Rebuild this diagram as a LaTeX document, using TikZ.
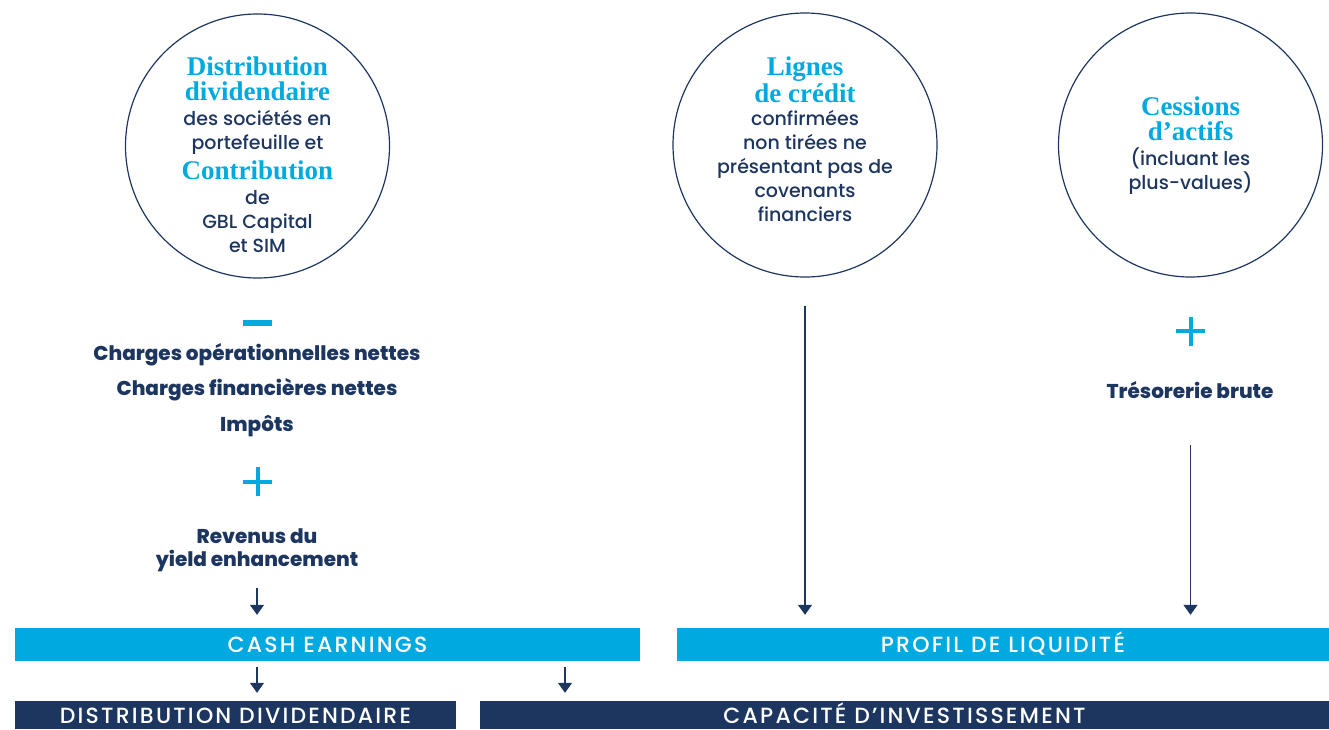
\documentclass[tikz,border=0pt]{standalone}
\usepackage{fontspec}
\newfontfamily\gbl{Poppins}[UprightFont={* Medium},BoldFont={* ExtraBold}]
\newfontfamily\serif{Liberation Serif}
\usepackage{tikz}
\usetikzlibrary{arrows.meta,positioning}

\definecolor{gblcyan}{HTML}{00A9E0}
\definecolor{gblnavy}{HTML}{1D3660}

% titre en serif gras
\newcommand{\hd}[1]{{\serif\bfseries\color{gblcyan}\fontsize{27}{24}\selectfont #1}}

\tikzset{
	bubble/.style={circle,draw=gblnavy,line width=1.2pt,minimum size=264pt,inner sep=0pt,
		align=center,text=gblnavy,font=\gbl\fontsize{19}{24}\selectfont},
	txt/.style={align=center,text=gblnavy,font=\gbl\fontsize{19}{24}\selectfont},
	lbl/.style={align=center,text=gblnavy,inner sep=0pt,font=\gbl\bfseries\fontsize{20}{23}\selectfont},
	bar/.style={fill=#1,text=white,inner sep=0pt,text depth=0pt,
		font=\gbl\fontsize{22}{24}\selectfont\addfontfeatures{LetterSpace=10}},
	flow/.style={draw=gblnavy,line width=1.3pt,-{Triangle[width=14pt,length=10pt]}},
	sign/.style={draw=gblcyan,line width=4pt}
}

\begin{document}
\begin{tikzpicture}[x=1pt,y=-1pt]
	\useasboundingbox (0,0) rectangle (1329,729);
	
	% les trois cercles
	\node[bubble] (div) at (257.5,146) {};
	\node[txt] (divtxt) at (257.5,155)
		{\hd{Distribution}\\[1pt]\hd{dividendaire}\\[1pt]
		des sociétés en\\portefeuille et\\[6pt]\hd{Contribution}\\[1pt]de\\GBL Capital\\et SIM};
	\node[bubble] (lig) at (805,145) {};
	\node[txt] (ligtxt) at (805,139.5)
		{\hd{Lignes}\\[1pt]\hd{de crédit}\\[-1pt]confirmées\\non tirées ne\\
		présentant pas de\\covenants\\financiers};
	\node[bubble] (ces) at (1190.5,145) {};
	\node[txt] (cestxt) at (1190.5,145.5) {\hd{Cessions}\\[1pt]\hd{d’actifs}\\[1pt](incluant les\\plus-values)};
	
	% colonne de gauche
	\coordinate (minus) at (257,323);
	\draw[sign,line width=6pt] ([xshift=-14.5pt]minus) -- ([xshift=14.5pt]minus);
	\node[lbl] (chop) at (257,355) {Charges opérationnelles nettes};
	\node[lbl] (chfi) at (257,390) {Charges financières nettes};
	\node[lbl] (imp) at (257,426) {Impôts};
	\coordinate (plusA) at (257.5,481.5);
	\draw[sign] ([xshift=-14.5pt]plusA) -- ([xshift=14.5pt]plusA)
		([yshift=-14.5pt]plusA) -- ([yshift=14.5pt]plusA);
	\node[lbl] (rev) at (257,550) {Revenus du\\yield enhancement};
	
	% colonne de droite
	\coordinate (plusB) at (1190.5,331);
	\draw[sign] ([xshift=-14.5pt]plusB) -- ([xshift=14.5pt]plusB)
		([yshift=-14.5pt]plusB) -- ([yshift=14.5pt]plusB);
	\node[lbl] (tre) at (1190,390) {Trésorerie brute};
	
	% bandeaux
	\node[bar=gblcyan,text height=16pt,minimum width=625pt,minimum height=33pt] (cash) at (327.5,644.5) {CASH EARNINGS};
	\node[bar=gblcyan,text height=16pt,minimum width=652pt,minimum height=33pt] (liq) at (1003,644.5) {PROFIL DE LIQUIDITÉ};
	\node[bar=gblnavy,text height=17pt,minimum width=441pt,minimum height=28pt] (dist) at (235.5,715) {DISTRIBUTION DIVIDENDAIRE};
	\node[bar=gblnavy,text height=17pt,minimum width=849pt,minimum height=28pt] (inv) at (904.5,715) {CAPACITÉ D’INVESTISSEMENT};
	\coordinate (split) at (565,680);
	
	% fleches
	\draw[flow] (257,588) -- ([yshift=13pt]cash.north -| rev);
	\draw[flow] ([yshift=-28pt]lig.south) -- ([yshift=13pt]liq.north -| lig);
	\draw[flow] (1190.5,445) -- ([yshift=13pt]liq.north -| ces);
	\draw[flow] ([yshift=-6pt]cash.south -| rev) -- ([yshift=8pt]dist.north -| rev);
	\draw[flow] ([yshift=-6pt]cash.south -| split) -- ([yshift=8pt]inv.north -| split);
\end{tikzpicture}
\end{document}
